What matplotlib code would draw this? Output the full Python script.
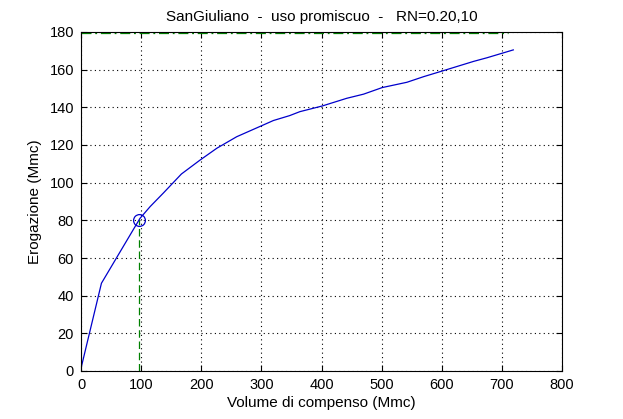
import matplotlib
matplotlib.use("Agg")
import matplotlib.pyplot as plt

plt.rcParams['font.family'] = ['Liberation Sans', 'DejaVu Sans']

volume = [0, 34, 98, 115, 137, 148, 167, 198, 226, 259, 303, 320, 347, 364, 401,
          442, 470, 501, 542, 570, 603, 653, 675, 719]
erogazione = [1.4, 46.6, 81, 87.3, 94.5, 98.2, 104.6, 112, 118.3, 124.4, 130.6, 133,
              135.6, 137.7, 140.7, 144.8, 147, 150.5, 153.3, 156.3, 159.5, 164.4, 166.3, 170.5]
point_x, point_y = 97, 80
max_y = 179.3
max_x_end = 710

fig = plt.figure(figsize=(6.23, 4.19), dpi=100)
ax = fig.add_axes([81/623, 1-371/419, (562-81)/623, (371-32)/419])

ax.plot([0, max_x_end], [max_y, max_y], color='#008000', linestyle='-.', lw=0.9,
        dashes=[8, 3, 1.5, 3])
ax.plot([point_x, point_x], [0, point_y], color='#008000', linestyle='--', lw=0.9,
        dashes=[6, 3])
ax.plot(volume, erogazione, color='#0000cc', lw=0.9)
ax.plot([point_x], [point_y], 'o', mfc='none', mec='#0000cc', ms=8.5, mew=0.9)

ax.set_xlim(0, 800)
ax.set_ylim(0, 180)
ax.set_xticks(range(0, 801, 100))
ax.set_yticks(range(0, 181, 20))
ax.grid(True, color='black', linestyle=(0, (1, 3)), lw=0.8)
ax.tick_params(direction='in', top=True, right=True, labelsize=10.5, length=4, width=0.8, pad=5)
for s in ax.spines.values():
    s.set_linewidth(0.8)
ax.set_xlabel('Volume di compenso (Mmc)', fontsize=11, labelpad=3)
ax.set_ylabel('Erogazione (Mmc)', fontsize=11, labelpad=5)
ax.set_title('SanGiuliano  -  uso promiscuo  -   RN=0.20,10', fontsize=11, pad=8)

fig.savefig('out.png', dpi=100)
